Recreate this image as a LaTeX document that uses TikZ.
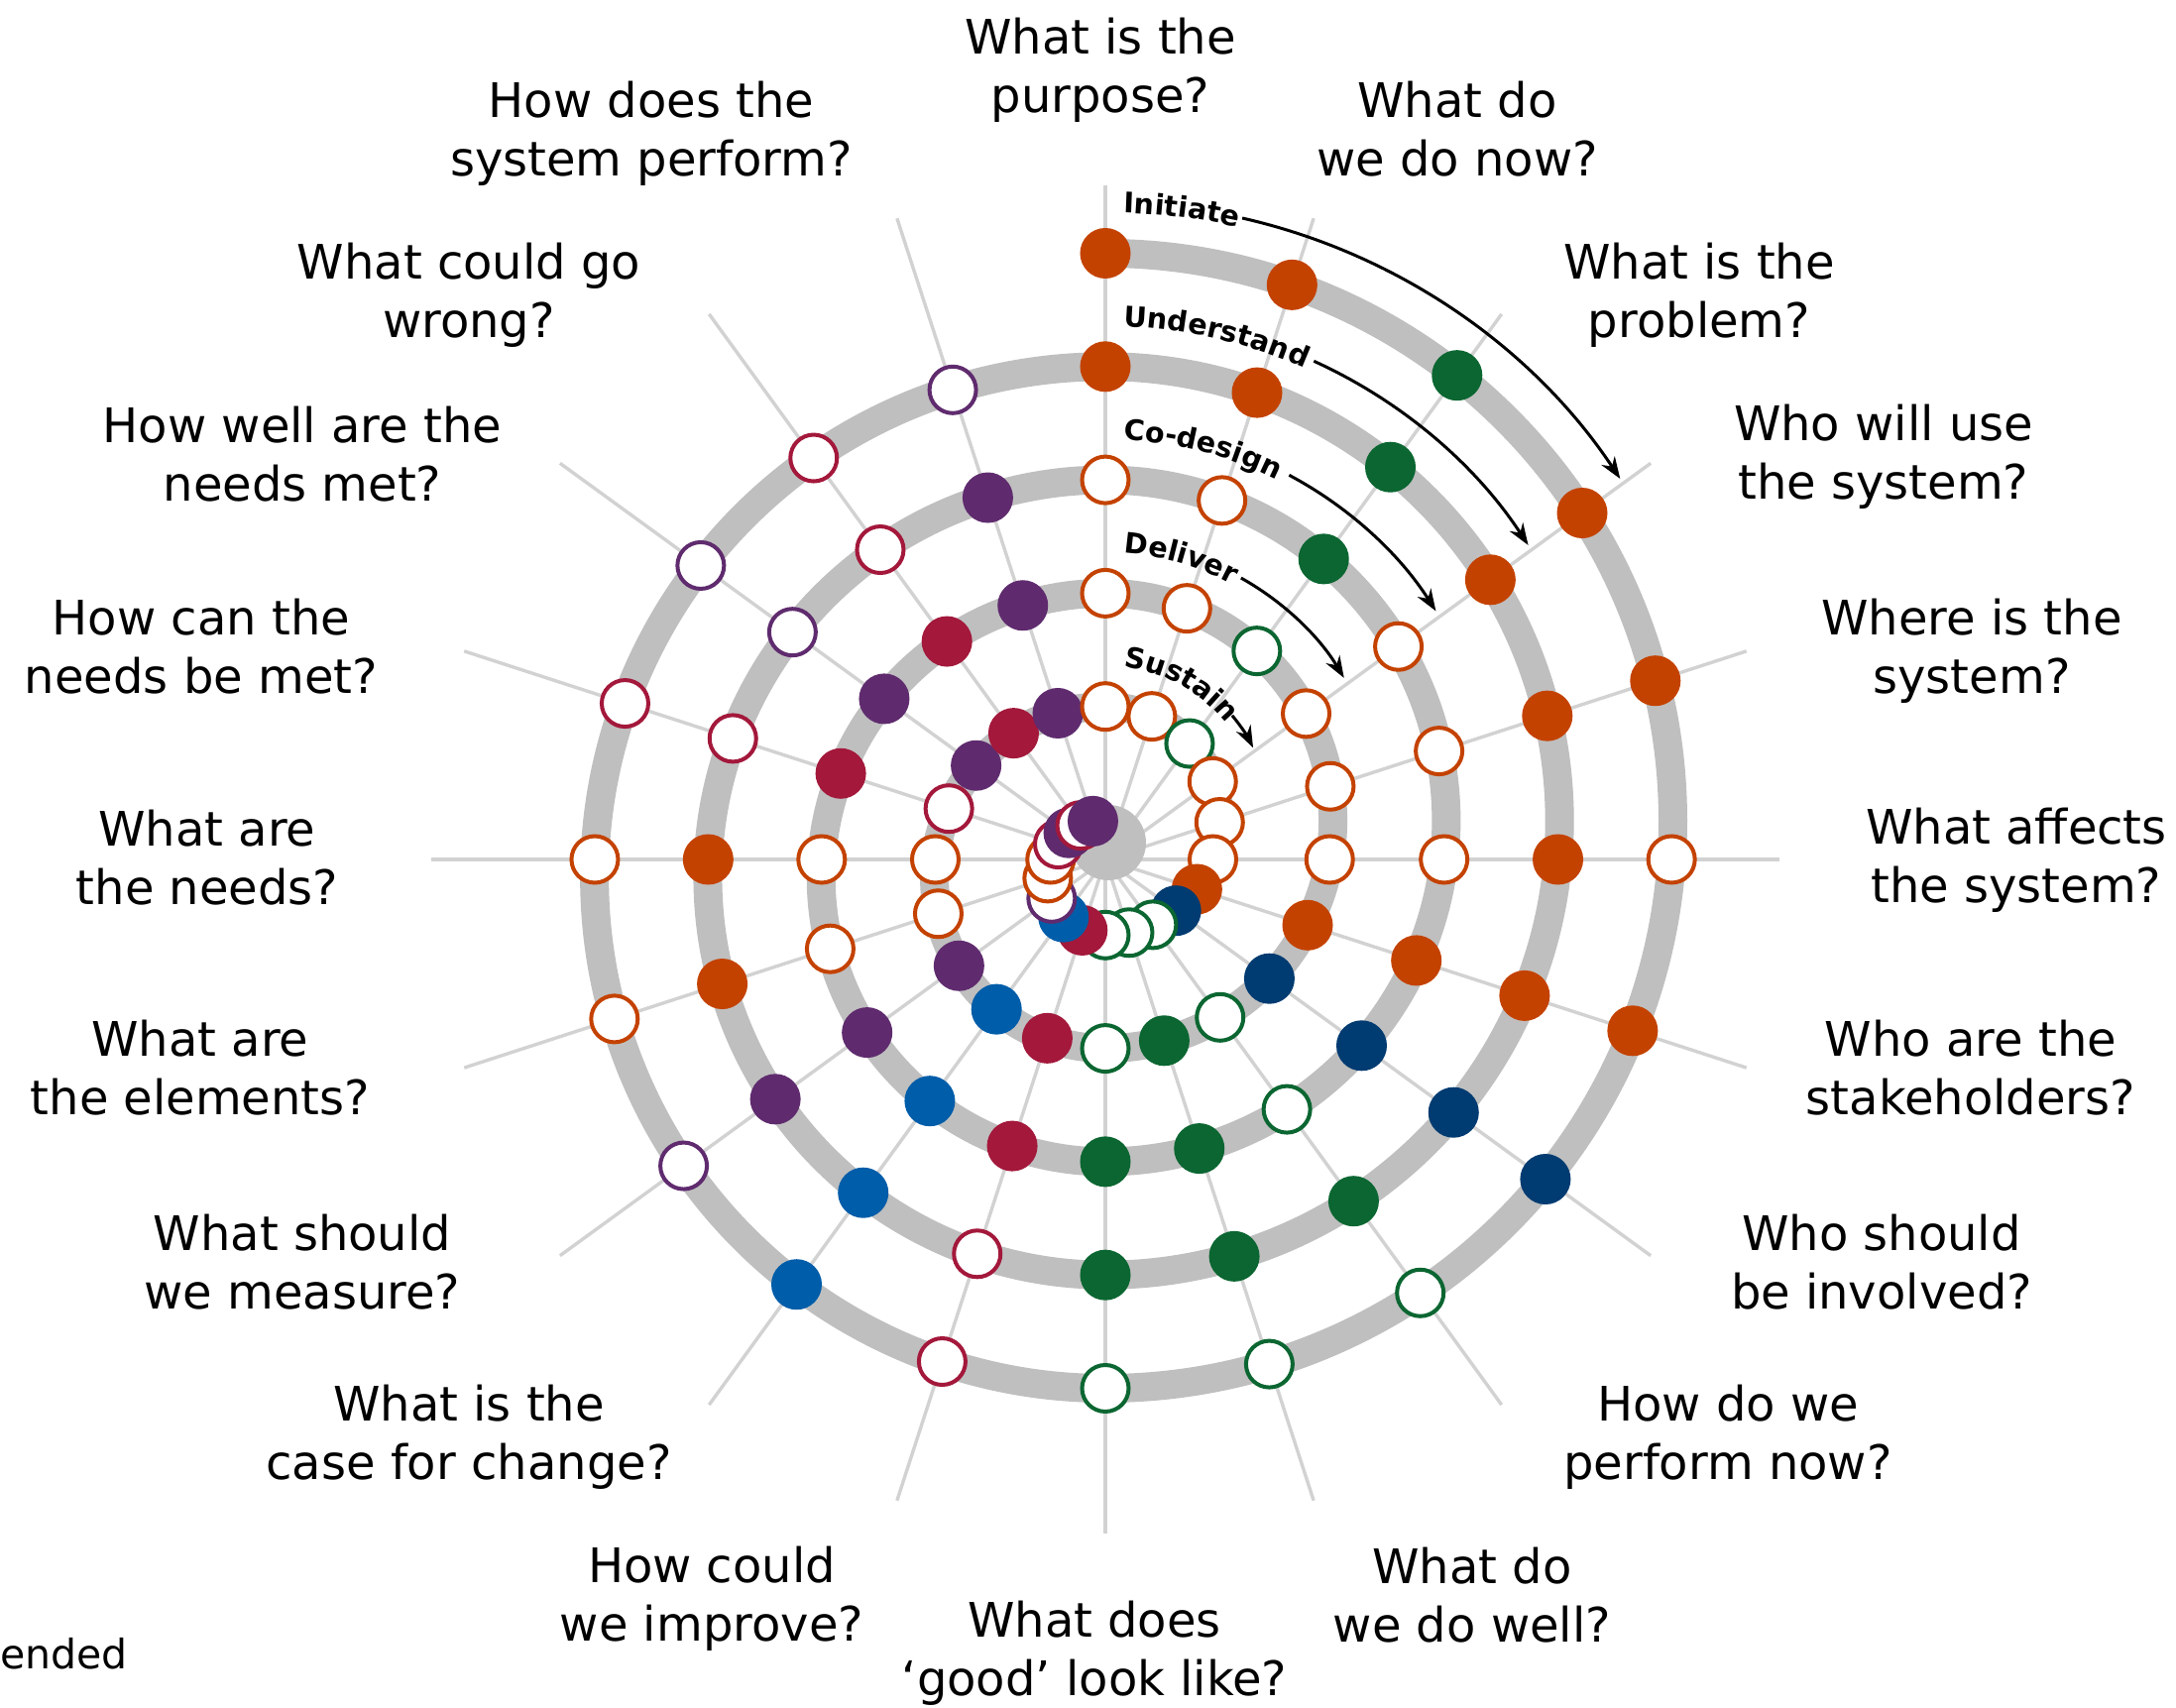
\documentclass[tikz,border=0pt]{standalone}
\usepackage{fontspec}
\setmainfont{DejaVu Sans}
\usetikzlibrary{arrows.meta,calc,decorations.text}
\definecolor{cOr}{HTML}{C44200}
\definecolor{cGr}{HTML}{0B6631}
\definecolor{cNv}{HTML}{003B71}
\definecolor{cBl}{HTML}{005DA9}
\definecolor{cCr}{HTML}{A3183B}
\definecolor{cPu}{HTML}{5F2B6E}
\definecolor{bandgray}{HTML}{BFBFBF}
\definecolor{spokegray}{HTML}{D2D2D2}
\newcommand\phasefont{\fontsize{14.3}{14}\bfseries}
\tikzset{
  spoke/.style       = {line width=1.7pt, spokegray},
  band/.style        = {line width=14.5pt, bandgray},
  dot/.style         = {line width=2pt},
  question/.style    = {font=\fontsize{24}{29.5}\selectfont, align=center, inner sep=0pt},
  phase/.style       = {decorate, decoration={text along path, text={|\phasefont|#1}}},
  phase arrow/.style = {-{Stealth[length=11pt,width=8pt]}, line width=1.5pt},
}

\begin{document}
\begin{tikzpicture}[x=0.5pt, y=0.5pt]
  \useasboundingbox (-1115,-856) rectangle (1080,867);
  \coordinate (O) at (0,0);
  \coordinate (C1) at (0,39);

  % spokes
  \foreach \i in {0,...,19}
    \draw[spoke] (O) -- (90-18*\i:680);

  % spiral, two half circles per turn
  \draw[band] (0,611.5)
    \foreach \k in {0,...,4} {
      arc[start angle=90, end angle=-90, radius=572.5-114.3*\k]
      arc[start angle=270, end angle=90, radius=515.35-114.3*\k]};
  \fill[bandgray] (3,17) circle[radius=38];

  % dots, clockwise from the top spoke, one line per turn
  \foreach \col/\typ [count=\idx from 0] in {
      cOr/F, cOr/F, cGr/F, cOr/F, cOr/F, cOr/O, cOr/F, cNv/F, cGr/O, cGr/O,
      cGr/O, cCr/O, cBl/F, cPu/O, cOr/O, cOr/O, cCr/O, cPu/O, cCr/O, cPu/O, % Initiate
      cOr/F, cOr/F, cGr/F, cOr/F, cOr/F, cOr/F, cOr/F, cNv/F, cGr/F, cGr/F,
      cGr/F, cCr/O, cBl/F, cPu/F, cOr/F, cOr/F, cCr/O, cPu/O, cCr/O, cPu/F, % Understand
      cOr/O, cOr/O, cGr/F, cOr/O, cOr/O, cOr/O, cOr/F, cNv/F, cGr/O, cGr/F,
      cGr/F, cCr/F, cBl/F, cPu/F, cOr/O, cOr/O, cCr/F, cPu/F, cCr/F, cPu/F, % Co-design
      cOr/O, cOr/O, cGr/O, cOr/O, cOr/O, cOr/O, cOr/F, cNv/F, cGr/O, cGr/F,
      cGr/O, cCr/F, cBl/F, cPu/F, cOr/O, cOr/O, cCr/O, cPu/F, cCr/F, cPu/F, % Deliver
      cOr/O, cOr/O, cGr/O, cOr/O, cOr/O, cOr/O, cOr/F, cNv/F, cGr/O, cGr/O,
      cGr/O, cCr/F, cBl/F, cPu/O, cOr/O, cOr/O, cCr/O, cPu/F, cCr/O, cPu/F  % Sustain
  }{
    \pgfmathtruncatemacro\kk{\idx/20}
    \pgfmathtruncatemacro\jj{mod(\idx,20)}
    \pgfmathsetmacro\ang{90-18*\jj}
    \ifnum\jj>10 \def\cy{-0.1815}\def\rr{5.1535}\else \def\cy{0.39}\def\rr{5.725}\fi
    \pgfmathsetmacro\R{\rr-1.143*\kk}
    \pgfmathsetmacro\rad{100*(\cy*sin(\ang)+sqrt(\R*\R-\cy*\cy*cos(\ang)*cos(\ang)))}
    \def\fc{white}\if F\typ\let\fc\col\fi
    \filldraw[dot, draw=\col, fill=\fc] (\ang:\rad) circle[radius=23.5];
  }

  % phase names along the turns
  \path[phase=Initiate]   ($(C1)+(88.3:613.5)$) arc[start angle=88.3, end angle=30, radius=613.5];
  \path[phase=Understand] ($(C1)+(87.9:499.2)$) arc[start angle=87.9, end angle=20, radius=499.2];
  \path[phase=Co-design]  ($(C1)+(87.2:384.9)$) arc[start angle=87.2, end angle=20, radius=384.9];
  \path[phase=Deliver]    ($(C1)+(86.1:270.6)$) arc[start angle=86.1, end angle=10, radius=270.6];
  \path[phase=Sustain]    ($(C1)+(83.2:156.3)$) arc[start angle=83.2, end angle=0, radius=156.3];

  \draw[phase arrow] ($(C1)+(77.2:623.5)$) arc[start angle=77.2, end angle=33.6, radius=623.5];
  \draw[phase arrow] ($(C1)+(65.6:509.2)$) arc[start angle=65.6, end angle=33.1, radius=509.2];
  \draw[phase arrow] ($(C1)+(62.0:394.9)$) arc[start angle=62.0, end angle=32.4, radius=394.9];
  \draw[phase arrow] ($(C1)+(60.8:280.6)$) arc[start angle=60.8, end angle=30.9, radius=280.6];
  \draw[phase arrow] ($(C1)+(39.7:166.3)$) arc[start angle=39.7, end angle=26.3, radius=166.3];

  % questions
  \node[question] (purpose)      at (-5,796)    {What is the\\purpose?};
  \node[question] (donow)        at (355,737)   {What do\\we do now?};
  \node[question] (problem)      at (599,569)   {What is the\\problem?};
  \node[question] (users)        at (785,406)   {Who will use\\the system?};
  \node[question] (where)        at (874,210)   {Where is the\\system?};
  \node[question] (affects)      at (919,-1)    {What affects\\the system?};
  \node[question] (stakeholders) at (873,-210)  {Who are the\\stakeholders?};
  \node[question] (involved)     at (783,-406)  {Who should\\be involved?};
  \node[question] (performnow)   at (628,-583)  {How do we\\perform now?};
  \node[question] (dowell)       at (370,-742)  {What do\\we do well?};
  \node[question] (good)         at (-11,-801)  {What does\\‘good’ look like?};
  \node[question] (improve)      at (-397,-746) {How could\\we improve?};
  \node[question] (casechange)   at (-642,-583) {What is the\\case for change?};
  \node[question] (measure)      at (-810,-406) {What should\\we measure?};
  \node[question] (elements)     at (-913,-210) {What are\\the elements?};
  \node[question] (needs)        at (-906,2)    {What are\\the needs?};
  \node[question] (needsmet)     at (-912,215)  {How can the\\needs be met?};
  \node[question] (howwell)      at (-810,409)  {How well are the\\needs met?};
  \node[question] (wrong)        at (-642,569)  {What could go\\wrong?};
  \node[question] (perform)      at (-458,732)  {How does the\\system perform?};

  \node[font=\fontsize{20.5}{24}\selectfont, anchor=base west, inner sep=0pt] (note)
       at (-1115,-816) {ended};
\end{tikzpicture}
\end{document}
